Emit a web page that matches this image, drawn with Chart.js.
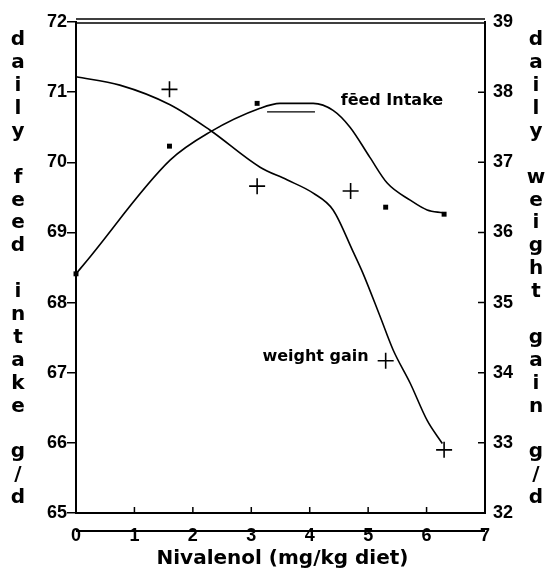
<!DOCTYPE html>
<html>
<head>
<meta charset="utf-8">
<script src="https://cdn.jsdelivr.net/npm/chart.js@4.4.0/dist/chart.umd.min.js"></script>
<style>
  html, body { margin: 0; padding: 0; background: #fff; }
  #wrap { width: 548px; height: 578px; }
</style>
</head>
<body>
<div id="wrap"><canvas id="nivChart" width="548" height="578"></canvas></div>
<script>
// Measured points (squares = feed intake, crosses = weight gain)
const feedDose = [0, 1.6, 3.1, 5.3, 6.3];
const feedIntake = [68.41, 70.23, 70.84, 69.36, 69.26];
const gainDose = [1.6, 3.1, 4.7, 5.3, 6.3];
const weightGain = [38.04, 36.66, 36.59, 34.17, 32.9];

// Fitted curves
const feedFitX = [0, 0.19, 1.61, 2.29, 3.15, 3.49, 4.06, 4.40, 4.69, 5.03, 5.33, 5.72, 6.01, 6.28];
const feedFitY = [68.41, 68.60, 70.03, 70.43, 70.77, 70.84, 70.84, 70.74, 70.50, 70.07, 69.70, 69.46, 69.32, 69.28];
const gainFitX = [0, 0.75, 1.61, 2.29, 3.15, 3.61, 4.06, 4.40, 4.74, 4.91, 5.21, 5.43, 5.72, 6.01, 6.27];
const gainFitY = [38.22, 38.10, 37.82, 37.46, 36.93, 36.75, 36.56, 36.32, 35.73, 35.42, 34.79, 34.32, 33.85, 33.32, 32.99];

// short stray segment under the feed peak
const strayX = [3.27, 4.09];
const strayY = [70.72, 70.72];

const leftTitle = ['d', 'a', 'i', 'l', 'y', '', 'f', 'e', 'e', 'd', '', 'i', 'n', 't', 'a', 'k', 'e', '', 'g', '/', 'd'];
const rightTitle = ['d', 'a', 'i', 'l', 'y', '', 'w', 'e', 'i', 'g', 'h', 't', '', 'g', 'a', 'i', 'n', '', 'g', '/', 'd'];

const FONT = '"Liberation Sans", Arial, sans-serif';
const HEAVY = '"DejaVu Sans", sans-serif';

function pts(xs, ys) {
    return xs.map((x, i) => ({ x: x, y: ys[i] }));
}

const decor = {
    id: 'decor',
    afterDraw(chart) {
        const ctx = chart.ctx;
        const area = chart.chartArea;
        const xs = chart.scales.x;
        const y2 = chart.scales.y2;
        ctx.save();
        ctx.strokeStyle = '#000';
        ctx.fillStyle = '#000';

        // double top border
        ctx.lineWidth = 1.5;
        ctx.beginPath();
        ctx.moveTo(area.left, area.top + 1);
        ctx.lineTo(area.right, area.top + 1);
        ctx.moveTo(area.left, area.top - 3);
        ctx.lineTo(area.right, area.top - 3);
        ctx.stroke();

        // inward ticks on bottom and right
        ctx.beginPath();
        for (let v = 1; v < 7; v++) {
            const px = xs.getPixelForValue(v);
            ctx.moveTo(px, area.bottom);
            ctx.lineTo(px, area.bottom - 6);
        }
        for (let v = 33; v < 39; v++) {
            const py = y2.getPixelForValue(v);
            ctx.moveTo(area.right, py);
            ctx.lineTo(area.right - 7, py);
        }
        ctx.stroke();

        // line running through the x tick labels
        ctx.lineWidth = 2;
        ctx.beginPath();
        ctx.moveTo(xs.getPixelForValue(0), area.bottom + 18);
        ctx.lineTo(xs.getPixelForValue(7), area.bottom + 18);
        ctx.stroke();

        // x title
        ctx.font = 'bold 20px ' + HEAVY;
        ctx.textAlign = 'center';
        ctx.textBaseline = 'alphabetic';
        ctx.fillText('Nivalenol (mg/kg diet)', (area.left + area.right) / 2 + 2, 564);

        // stacked side titles
        ctx.font = 'bold 20px ' + HEAVY;
        ctx.textBaseline = 'middle';
        leftTitle.forEach((ch, i) => ctx.fillText(ch, 18, 40 + i * 22.9));
        rightTitle.forEach((ch, i) => ctx.fillText(ch, 536, 40 + i * 22.9));

        // curve labels
        ctx.font = 'bold 16px ' + HEAVY;
        ctx.textAlign = 'left';
        ctx.fillText('fēed Intake', xs.getPixelForValue(4.53), chart.scales.y.getPixelForValue(70.88));
        ctx.fillText('weight gain', xs.getPixelForValue(3.19), y2.getPixelForValue(34.22));
        ctx.restore();
    }
};

new Chart(document.getElementById('nivChart'), {
    type: 'scatter',
    data: {
        datasets: [
            {
                label: 'feed intake fit',
                data: pts(feedFitX, feedFitY),
                yAxisID: 'y',
                showLine: true,
                borderColor: '#000',
                borderWidth: 1.6,
                pointRadius: 0,
                cubicInterpolationMode: 'monotone'
            },
            {
                label: 'weight gain fit',
                data: pts(gainFitX, gainFitY),
                yAxisID: 'y2',
                showLine: true,
                borderColor: '#000',
                borderWidth: 1.6,
                pointRadius: 0,
                cubicInterpolationMode: 'monotone'
            },
            {
                label: 'stray',
                data: pts(strayX, strayY),
                yAxisID: 'y',
                showLine: true,
                borderColor: '#000',
                borderWidth: 1.3,
                pointRadius: 0
            },
            {
                label: 'feed intake',
                data: pts(feedDose, feedIntake),
                yAxisID: 'y',
                pointStyle: 'rect',
                pointRadius: 3.5,
                backgroundColor: '#000',
                borderColor: '#000',
                borderWidth: 0
            },
            {
                label: 'weight gain',
                data: pts(gainDose, weightGain),
                yAxisID: 'y2',
                pointStyle: 'cross',
                pointRadius: 8,
                borderColor: '#000',
                borderWidth: 1.6
            }
        ]
    },
    options: {
        responsive: false,
        animation: false,
        clip: false,
        layout: { padding: { top: 22, left: 0, right: 0, bottom: 0 } },
        plugins: {
            legend: { display: false },
            tooltip: { enabled: false }
        },
        scales: {
            x: {
                type: 'linear',
                min: 0,
                max: 7,
                afterFit: s => { s.height = 65; },
                ticks: {
                    stepSize: 1,
                    color: '#000',
                    padding: 12,
                    font: { family: FONT, size: 18, weight: 'bold' }
                },
                grid: { display: false, drawTicks: false },
                border: { display: true, color: '#000', width: 2 }
            },
            y: {
                position: 'left',
                min: 65,
                max: 72,
                afterFit: s => { s.width = 76; },
                ticks: {
                    stepSize: 1,
                    color: '#000',
                    padding: 0,
                    font: { family: FONT, size: 18, weight: 'bold' }
                },
                grid: { drawOnChartArea: false, drawTicks: true, tickLength: 9, color: '#000', lineWidth: 1.5 },
                border: { display: true, color: '#000', width: 2 }
            },
            y2: {
                position: 'right',
                min: 32,
                max: 39,
                afterFit: s => { s.width = 63; },
                ticks: {
                    stepSize: 1,
                    color: '#000',
                    padding: 8,
                    font: { family: FONT, size: 18, weight: 'bold' }
                },
                grid: { display: false, drawTicks: false },
                border: { display: true, color: '#000', width: 2 }
            }
        }
    },
    plugins: [decor]
});
</script>
</body>
</html>
